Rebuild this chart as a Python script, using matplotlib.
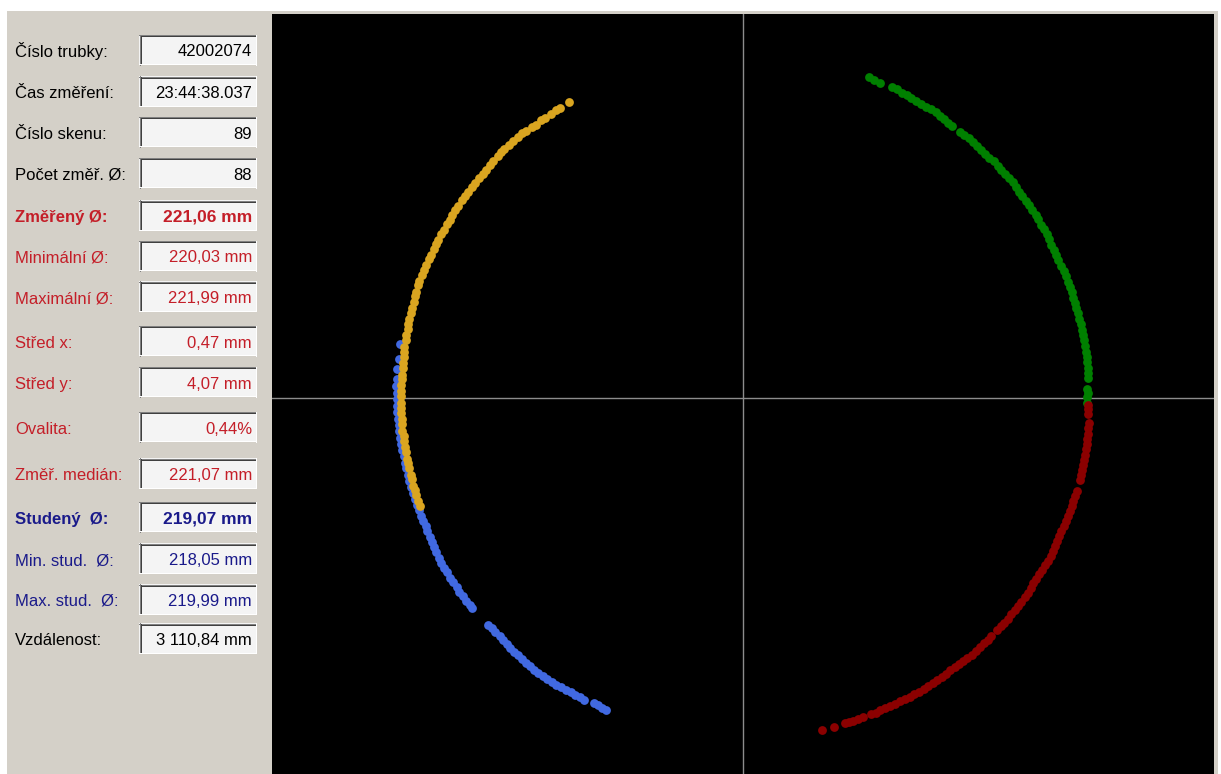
import numpy as np
import matplotlib
matplotlib.use("Agg")
import matplotlib.pyplot as plt
from matplotlib.patches import Rectangle
from matplotlib.lines import Line2D

# ---- measurement summary (label, value) ----
labels = ["Číslo trubky:", "Čas změření:", "Číslo skenu:", "Počet změř. Ø:",
          "Změřený Ø:", "Minimální Ø:", "Maximální Ø:", "Střed x:", "Střed y:",
          "Ovalita:", "Změř. medián:", "Studený  Ø:", "Min. stud.  Ø:",
          "Max. stud.  Ø:", "Vzdálenost:"]
values = ["42002074", "23:44:38.037", "89", "88",
          "221,06 mm", "220,03 mm", "221,99 mm", "0,47 mm", "4,07 mm",
          "0,44%", "221,07 mm", "219,07 mm", "218,05 mm",
          "219,99 mm", "3 110,84 mm"]

# ---- profile points per sensor: (angle in degrees, radius in mm) ----
sensor_yellow = [
    (120.6, 110.4), (122.3, 110.3), (123.1, 110.5), (124.0, 110.3),
    (125.3, 110.4), (126.1, 110.5), (127.2, 110.4), (128.0, 110.6), (129.1, 110.8),
    (129.9, 110.9), (130.8, 110.8), (131.9, 111.0), (132.7, 110.9), (133.8, 111.0),
    (134.6, 110.9), (135.5, 110.8), (136.6, 110.9), (137.4, 110.7), (138.5, 110.6),
    (139.3, 110.5), (140.2, 110.6), (141.3, 110.7), (142.1, 110.6), (143.2, 110.5),
    (144.0, 110.6), (144.9, 110.7), (146.0, 110.5), (146.8, 110.6), (147.9, 110.5),
    (148.7, 110.4), (149.6, 110.5), (150.7, 110.4), (151.5, 110.5), (152.6, 110.4),
    (153.4, 110.6), (154.3, 110.5), (155.4, 110.6), (156.2, 110.5), (157.3, 110.7),
    (158.1, 110.6), (159.0, 110.7), (160.1, 110.8), (160.9, 110.6), (162.0, 110.5),
    (162.8, 110.6), (163.7, 110.4), (164.8, 110.5), (165.6, 110.3), (166.7, 110.4),
    (167.5, 110.3), (168.4, 110.2), (169.5, 110.3), (170.3, 110.1), (171.4, 110.2),
    (172.2, 110.1), (173.1, 110.0), (174.2, 110.1), (175.0, 110.0), (176.1, 110.1),
    (176.9, 110.0), (177.8, 110.2), (178.9, 110.1), (179.7, 110.0), (180.8, 110.1),
    (181.6, 110.0), (182.5, 110.1), (183.6, 109.9), (184.4, 110.0), (185.5, 110.1),
    (186.3, 109.9), (187.2, 110.0), (188.3, 109.9), (189.1, 110.0), (190.2, 109.9),
    (191.0, 109.8), (191.9, 109.9), (193.0, 109.8), (193.8, 109.7), (194.9, 109.8),
    (195.7, 109.6), (196.6, 109.7), (197.6, 109.6), (198.4, 109.7),
]
sensor_blue = [
    (171.0, 111.6), (173.5, 111.5), (175.2, 111.7), (176.8, 111.4), (178.0, 111.6),
    (179.1, 111.5), (180.2, 111.4), (181.3, 111.5), (182.4, 111.3), (183.4, 111.2),
    (184.5, 111.2), (185.5, 111.1), (186.6, 111.0), (187.6, 111.0), (188.7, 110.9),
    (189.7, 110.8), (190.8, 110.8), (191.8, 110.7), (192.9, 110.7), (193.9, 110.6),
    (195.0, 110.6), (196.0, 110.5), (197.1, 110.5), (198.1, 110.4), (199.1, 110.4),
    (200.1, 110.3), (201.0, 110.4), (202.0, 110.2), (202.9, 110.3), (203.9, 110.2),
    (204.8, 110.4), (205.8, 110.3), (206.7, 110.5), (207.7, 110.4), (208.6, 110.6),
    (209.6, 110.5), (210.5, 110.4), (211.5, 110.6), (212.4, 110.5), (213.4, 110.4),
    (214.3, 110.5), (215.3, 110.3), (216.2, 110.4), (217.1, 110.3), (217.8, 110.4),
    (221.6, 109.8), (222.5, 109.6), (223.4, 109.7), (224.3, 109.5), (225.2, 109.6),
    (226.1, 109.7), (227.0, 109.8), (227.9, 109.9), (228.8, 109.9), (229.7, 110.0),
    (230.6, 110.1), (231.5, 110.2), (232.4, 110.2), (233.3, 110.3), (234.2, 110.2),
    (235.1, 110.3), (236.0, 110.2), (236.9, 110.0), (237.8, 109.9), (238.7, 109.8),
    (239.6, 109.7), (240.5, 109.7), (241.4, 109.6), (242.2, 109.6),
    (243.9, 109.2), (244.7, 109.3), (245.5, 109.4), (246.3, 109.5),
]
sensor_green = [
    (68.7, 110.9), (67.6, 110.6), (66.6, 110.5),
    (64.5, 110.9), (63.6, 110.8), (62.6, 110.6), (61.7, 110.7), (60.7, 110.5),
    (59.8, 110.6), (58.9, 110.4), (57.9, 110.6), (57.0, 110.7), (56.0, 110.8),
    (55.1, 110.7), (54.2, 110.5), (53.3, 110.4), (52.5, 110.4),
    (50.9, 110.4), (50.0, 110.6), (49.0, 110.7), (48.1, 110.7), (47.1, 110.5),
    (46.2, 110.6), (45.3, 110.5), (44.3, 110.6), (43.4, 110.8), (42.4, 110.7),
    (41.5, 110.8), (40.6, 110.9), (39.6, 110.8), (38.7, 111.0), (37.7, 110.9),
    (36.8, 110.7), (35.9, 110.6), (34.9, 110.8), (34.0, 110.9), (33.0, 110.8),
    (32.1, 111.0), (31.2, 110.9), (30.2, 110.8), (29.3, 111.0), (28.3, 110.9),
    (27.4, 110.8), (26.5, 110.6), (25.5, 110.7), (24.6, 110.5), (23.7, 110.6),
    (22.5, 110.7), (21.6, 110.8), (20.7, 111.0), (19.7, 110.9), (18.8, 111.0),
    (17.9, 111.1), (16.9, 110.9), (16.0, 111.0), (15.1, 110.9), (14.2, 111.1),
    (13.3, 111.0), (12.3, 111.2), (11.4, 111.1), (10.5, 111.1), (9.6, 111.2),
    (8.6, 111.1), (7.7, 111.1), (6.8, 111.2), (5.9, 111.1), (5.0, 111.2),
    (4.1, 111.1), (3.3, 111.1),
    (1.5, 110.7), (0.8, 110.7), (0.1, 110.6), (-0.8, 110.6),
]
sensor_red = [
    (-1.1, 111.0), (-1.9, 111.0), (-2.7, 111.1),
    (-4.2, 111.3), (-5.0, 111.3), (-5.9, 111.4), (-6.8, 111.4), (-7.6, 111.4),
    (-8.5, 111.5), (-9.4, 111.4), (-10.3, 111.5), (-11.1, 111.4), (-12.0, 111.4),
    (-12.9, 111.3), (-13.7, 111.4),
    (-15.5, 111.3), (-16.4, 111.3), (-17.3, 111.2), (-18.2, 111.2), (-19.1, 111.1),
    (-20.0, 111.1), (-20.9, 111.0), (-21.8, 110.9), (-22.7, 110.8), (-23.6, 110.7),
    (-24.5, 110.7), (-25.4, 110.9), (-26.3, 111.0), (-27.2, 111.1), (-28.1, 111.1),
    (-29.0, 111.0), (-29.9, 110.9), (-30.8, 110.8), (-31.7, 110.7), (-32.6, 110.7),
    (-33.5, 110.8), (-34.4, 110.8), (-35.3, 110.8), (-36.2, 110.8), (-37.1, 110.8),
    (-38.0, 110.7), (-38.9, 110.8), (-39.8, 110.8), (-40.7, 110.7), (-41.6, 110.6),
    (-42.5, 110.5),
    (-43.8, 110.4), (-44.7, 110.5), (-45.6, 110.4), (-46.5, 110.5), (-47.4, 110.4),
    (-48.3, 110.5), (-49.2, 110.3), (-50.1, 110.2), (-51.0, 110.2), (-51.9, 110.1),
    (-52.8, 110.0), (-53.7, 110.1), (-54.6, 110.1), (-55.5, 110.2), (-56.4, 110.2),
    (-57.3, 110.1), (-58.2, 110.1), (-59.1, 110.0), (-60.0, 110.0), (-60.9, 109.9),
    (-61.8, 109.9), (-62.7, 109.8), (-63.6, 109.9), (-64.5, 109.8), (-65.4, 109.8),
    (-66.3, 109.7), (-67.2, 109.7), (-68.0, 109.7),
    (-69.5, 109.6), (-70.4, 109.6), (-71.3, 109.6), (-72.0, 109.6), (-72.6, 109.6),
    (-74.6, 109.6), (-76.7, 109.7),
]

# ---- figure layout (pixels) ----
W, H = 1221, 774
fig = plt.figure(figsize=(W / 100, H / 100), dpi=100)
fig.patch.set_facecolor("white")

panel = fig.add_axes([0, 0, 1, 1])
panel.set_xlim(0, W)
panel.set_ylim(H, 0)
panel.axis("off")
panel.add_patch(Rectangle((7, 11), 1211, 763, facecolor="#D4D0C8", edgecolor="none"))

RED = "#C41E28"
NAVY = "#1A1A8A"
row_y = [49.5, 91, 131.7, 172.5, 215, 255.5, 296, 340.7, 381.7, 426.7,
         473.3, 516.7, 558.3, 599, 638.3]
row_color = ["#000000"] * 4 + [RED] * 7 + [NAVY] * 3 + ["#000000"]
row_bold = [False] * 4 + [True] + [False] * 6 + [True] + [False] * 3

px = 0.72  # one pixel in points at 100 dpi
box_x0, box_x1, box_h = 139, 256, 30
for lab, val, yc, col, bold in zip(labels, values, row_y, row_color, row_bold):
    top, bot = yc - box_h / 2, yc + box_h / 2
    panel.add_patch(Rectangle((box_x0, top), box_x1 - box_x0, box_h,
                              facecolor="#F4F4F4", edgecolor="none"))
    # sunken 3D border
    panel.add_line(Line2D([box_x0, box_x1], [top + 0.5, top + 0.5], color="#808080", lw=px))
    panel.add_line(Line2D([box_x0 + 1, box_x1 - 1], [top + 1.5, top + 1.5], color="#404040", lw=px))
    panel.add_line(Line2D([box_x0 + 0.5, box_x0 + 0.5], [top, bot], color="#808080", lw=px))
    panel.add_line(Line2D([box_x0 + 1.5, box_x0 + 1.5], [top + 1, bot - 1], color="#404040", lw=px))
    panel.add_line(Line2D([box_x0, box_x1], [bot - 0.5, bot - 0.5], color="#FFFFFF", lw=px))
    panel.add_line(Line2D([box_x1 - 0.5, box_x1 - 0.5], [top, bot], color="#FFFFFF", lw=px))
    weight = "bold" if bold else "normal"
    panel.text(15, yc + 7, lab, color=col, fontsize=12, fontweight=weight,
               family=["Liberation Sans", "DejaVu Sans"], ha="left", va="baseline")
    panel.text(252, yc + 7, val, color=col, fontsize=12.5 if bold else 12,
               fontweight=weight, family=["Liberation Sans", "DejaVu Sans"],
               ha="right", va="baseline")

# ---- profile view (mm, crosshair at origin, 3.11 px per mm) ----
scale = 3.11
x_left, x_right, y_top, y_bot = 272, 1214, 14, 774
cx, cy = 743.3, 398.0
ax = fig.add_axes([x_left / W, 1 - y_bot / H, (x_right - x_left) / W, (y_bot - y_top) / H])
ax.set_facecolor("black")
ax.set_xlim((x_left - cx) / scale, (x_right - cx) / scale)
ax.set_ylim((cy - y_bot) / scale, (cy - y_top) / scale)
ax.set_xticks([])
ax.set_yticks([])
for s in ax.spines.values():
    s.set_visible(False)

ax.axhline(0, color="#8C8C8C", lw=1.0, zorder=1)
ax.axvline(0, color="#8C8C8C", lw=1.0, zorder=1)

series = [(sensor_blue, "#4169E1"), (sensor_yellow, "#DAA520"),
          (sensor_green, "#008000"), (sensor_red, "#8B0000")]
for pts, color in series:
    arr = np.array(pts)
    th = np.deg2rad(arr[:, 0])
    r = arr[:, 1]
    ax.scatter(r * np.cos(th), r * np.sin(th), s=40, color=color,
               linewidths=0, zorder=3)

fig.savefig("out.png", dpi=100, facecolor=fig.get_facecolor())
